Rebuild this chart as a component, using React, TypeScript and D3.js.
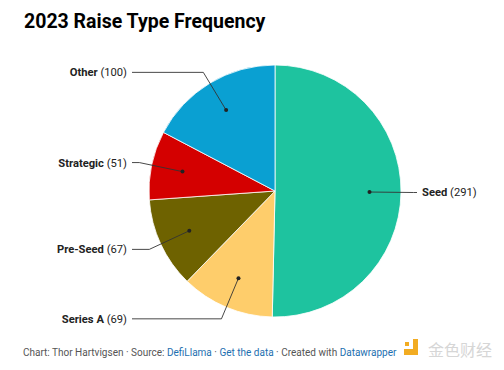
import React from "react";
import * as d3 from "d3";

// slices in drawing order, clockwise from 12 o'clock
const categories = ["Seed", "Series A", "Pre-Seed", "Strategic", "Other"];
const counts = [291, 69, 67, 51, 100];
const colors = ["#1ec39f", "#fecd6b", "#6e6200", "#d40000", "#0aa0d2"];

const W = 504, H = 370;
const cx = 275, cy = 191, R = 126;

export default function App() {
  const data = categories.map((c, i) => ({ name: c, value: counts[i], color: colors[i] }));
  const pie = d3.pie<any>().value((d) => d.value).sort(null);
  const arcs = pie(data);
  const arc = d3.arc<any>().innerRadius(0).outerRadius(R);
  const dotArc = d3.arc<any>().innerRadius(R * 0.75).outerRadius(R * 0.75);
  const elbowArc = d3.arc<any>().innerRadius(R * 1.1).outerRadius(R * 1.1);

  return (
    <svg width={W} height={H} style={{ position: "absolute", left: 0, top: 0, fontFamily: "Roboto, sans-serif" }}>
      <rect width={W} height={H} fill="#fff" />
      <text x={24} y={28} fontSize={19.5} fontWeight={700} fill="#000">2023 Raise Type Frequency</text>

      <g transform={`translate(${cx},${cy})`}>
        {arcs.map((a, i) => (
          <path key={i} d={arc(a) as string} fill={a.data.color} stroke="#fff" strokeWidth={0.8} />
        ))}
        {arcs.map((a, i) => {
          const [dx, dy] = dotArc.centroid(a);
          const [ex, ey] = elbowArc.centroid(a);
          const mid = (a.startAngle + a.endAngle) / 2;
          const right = mid < Math.PI;
          const lx = right ? 417 - cx : 132 - cx;
          const tx = right ? 422 - cx : 127 - cx;
          return (
            <g key={"l" + i}>
              <polyline points={`${dx},${dy} ${ex},${ey} ${lx},${ey}`} fill="none" stroke="#333" strokeWidth={0.9} />
              <circle cx={dx} cy={dy} r={2} fill="#222" />
              <text x={tx} y={ey} dy="0.35em" fontSize={11.2} fill="#222" textAnchor={right ? "start" : "end"}>
                <tspan fontWeight={700}>{a.data.name}</tspan>
                <tspan> ({a.data.value})</tspan>
              </text>
            </g>
          );
        })}
      </g>

      <text x={23} y={356} fontSize={10} fill="#555">
        Chart: Thor Hartvigsen · Source: <tspan fill="#1d6fb0">DefiLlama</tspan> · <tspan fill="#1d6fb0">Get the data</tspan> · Created with <tspan fill="#1d6fb0">Datawrapper</tspan>
      </text>
      <g>
        <rect x={413} y={339} width={5} height={16} fill="#f2ac22" />
        <rect x={404} y={349} width={9} height={6} fill="#f2ac22" />
        <rect x={405} y={342} width={4} height={4} fill="#f2ac22" />
        <text x={428} y={356} fontSize={16} fill="#d6d6d6" fontFamily="'Noto Sans CJK SC'">金色财经</text>
      </g>
    </svg>
  );
}
